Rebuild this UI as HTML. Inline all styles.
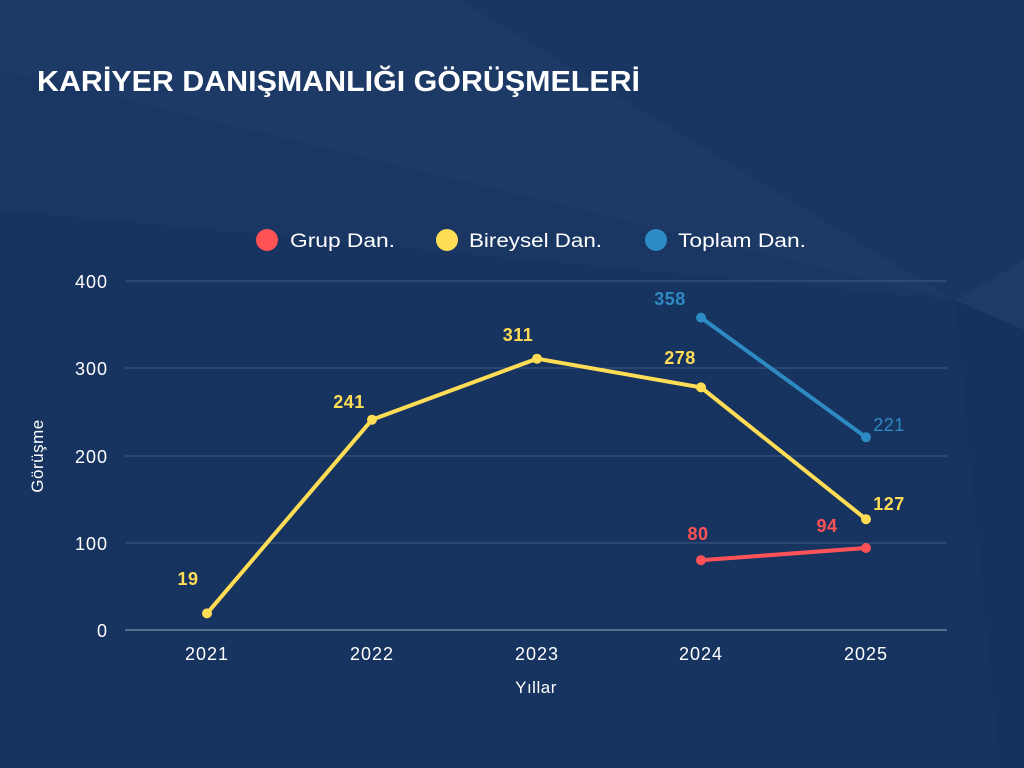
<!DOCTYPE html>
<html><head><meta charset="utf-8"><style>
body{margin:0;width:1024px;height:768px;overflow:hidden;background:#183462;font-family:"Liberation Sans",sans-serif}
</style></head><body>
<svg width="1024" height="768" xmlns="http://www.w3.org/2000/svg" style="position:absolute;left:0;top:0">
<rect width="1024" height="768" fill="#17335f"/>
<polygon points="0,0 460,0 955,300 0,70" fill="#1d3966"/>
<polygon points="0,70 955,300 0,210" fill="#1a3663"/>
<polygon points="460,0 1024,0 1024,260 955,300" fill="#193562"/>
<polygon points="955,300 1024,260 1024,330" fill="#1e3b68"/>
<polygon points="955,300 1024,330 1024,768 1000,768" fill="#16315c"/>
<text x="37" y="91" fill="#fff" font-size="29" font-weight="bold" textLength="603" lengthAdjust="spacingAndGlyphs">KARİYER DANIŞMANLIĞI GÖRÜŞMELERİ</text>
<g font-size="19" fill="#fff">
<circle cx="267" cy="240" r="11" fill="#ff5257"/><text x="290" y="247" textLength="105" lengthAdjust="spacingAndGlyphs">Grup Dan.</text>
<circle cx="447" cy="240" r="11" fill="#ffdd55"/><text x="469" y="247" textLength="133" lengthAdjust="spacingAndGlyphs">Bireysel Dan.</text>
<circle cx="656" cy="240" r="11" fill="#2e8ac2"/><text x="678" y="247" textLength="128" lengthAdjust="spacingAndGlyphs">Toplam Dan.</text>
</g>
<g stroke="#3f5a86" stroke-width="1">
<line x1="125" y1="281" x2="947" y2="281"/><line x1="125" y1="368" x2="947" y2="368"/>
<line x1="125" y1="456" x2="947" y2="456"/><line x1="125" y1="543" x2="947" y2="543"/>
</g>
<line x1="125" y1="630" x2="947" y2="630" stroke="#9aa8bf" stroke-width="1"/>
<g font-size="18" fill="#fff" text-anchor="end" letter-spacing="1">
<text x="108" y="288">400</text><text x="108" y="375">300</text><text x="108" y="463">200</text><text x="108" y="550">100</text><text x="108" y="637">0</text>
</g>
<g font-size="18" fill="#fff" text-anchor="middle" letter-spacing="1">
<text x="207" y="660">2021</text><text x="372" y="660">2022</text><text x="537" y="660">2023</text><text x="701" y="660">2024</text><text x="866" y="660">2025</text>
<text x="536" y="693" font-size="17" letter-spacing="0.5">Yıllar</text>
</g>
<text transform="translate(43,456) rotate(-90)" font-size="17" fill="#fff" text-anchor="middle" letter-spacing="0.5">Görüşme</text>
<polyline points="207,613.4 372,419.7 537,358.7 701,387.4 866,519.2" fill="none" stroke="#ffdd55" stroke-width="4"/>
<polyline points="701,560.2 866,548" fill="none" stroke="#ff5257" stroke-width="4"/>
<polyline points="701,317.6 866,437.2" fill="none" stroke="#2e8ac2" stroke-width="4"/>
<g fill="#ffdd55"><circle cx="207" cy="613.4" r="5"/><circle cx="372" cy="419.7" r="5"/><circle cx="537" cy="358.7" r="5"/><circle cx="701" cy="387.4" r="5"/><circle cx="866" cy="519.2" r="5"/></g>
<g fill="#ff5257"><circle cx="701" cy="560.2" r="5"/><circle cx="866" cy="548" r="5"/></g>
<g fill="#2e8ac2"><circle cx="701" cy="317.6" r="5"/><circle cx="866" cy="437.2" r="5"/></g>
<g font-size="18" font-weight="bold" text-anchor="middle" letter-spacing="0.5">
<text x="188" y="585" fill="#ffdd55">19</text>
<text x="349" y="408" fill="#ffdd55">241</text>
<text x="518" y="341" fill="#ffdd55">311</text>
<text x="680" y="364" fill="#ffdd55">278</text>
<text x="889" y="510" fill="#ffdd55">127</text>
<text x="698" y="540" fill="#ff5257">80</text>
<text x="827" y="532" fill="#ff5257">94</text>
<text x="670" y="305" fill="#2e8ac2">358</text>
<text x="889" y="431" fill="#2e8ac2" font-weight="normal">221</text>
</g>
</svg>
</body></html>
